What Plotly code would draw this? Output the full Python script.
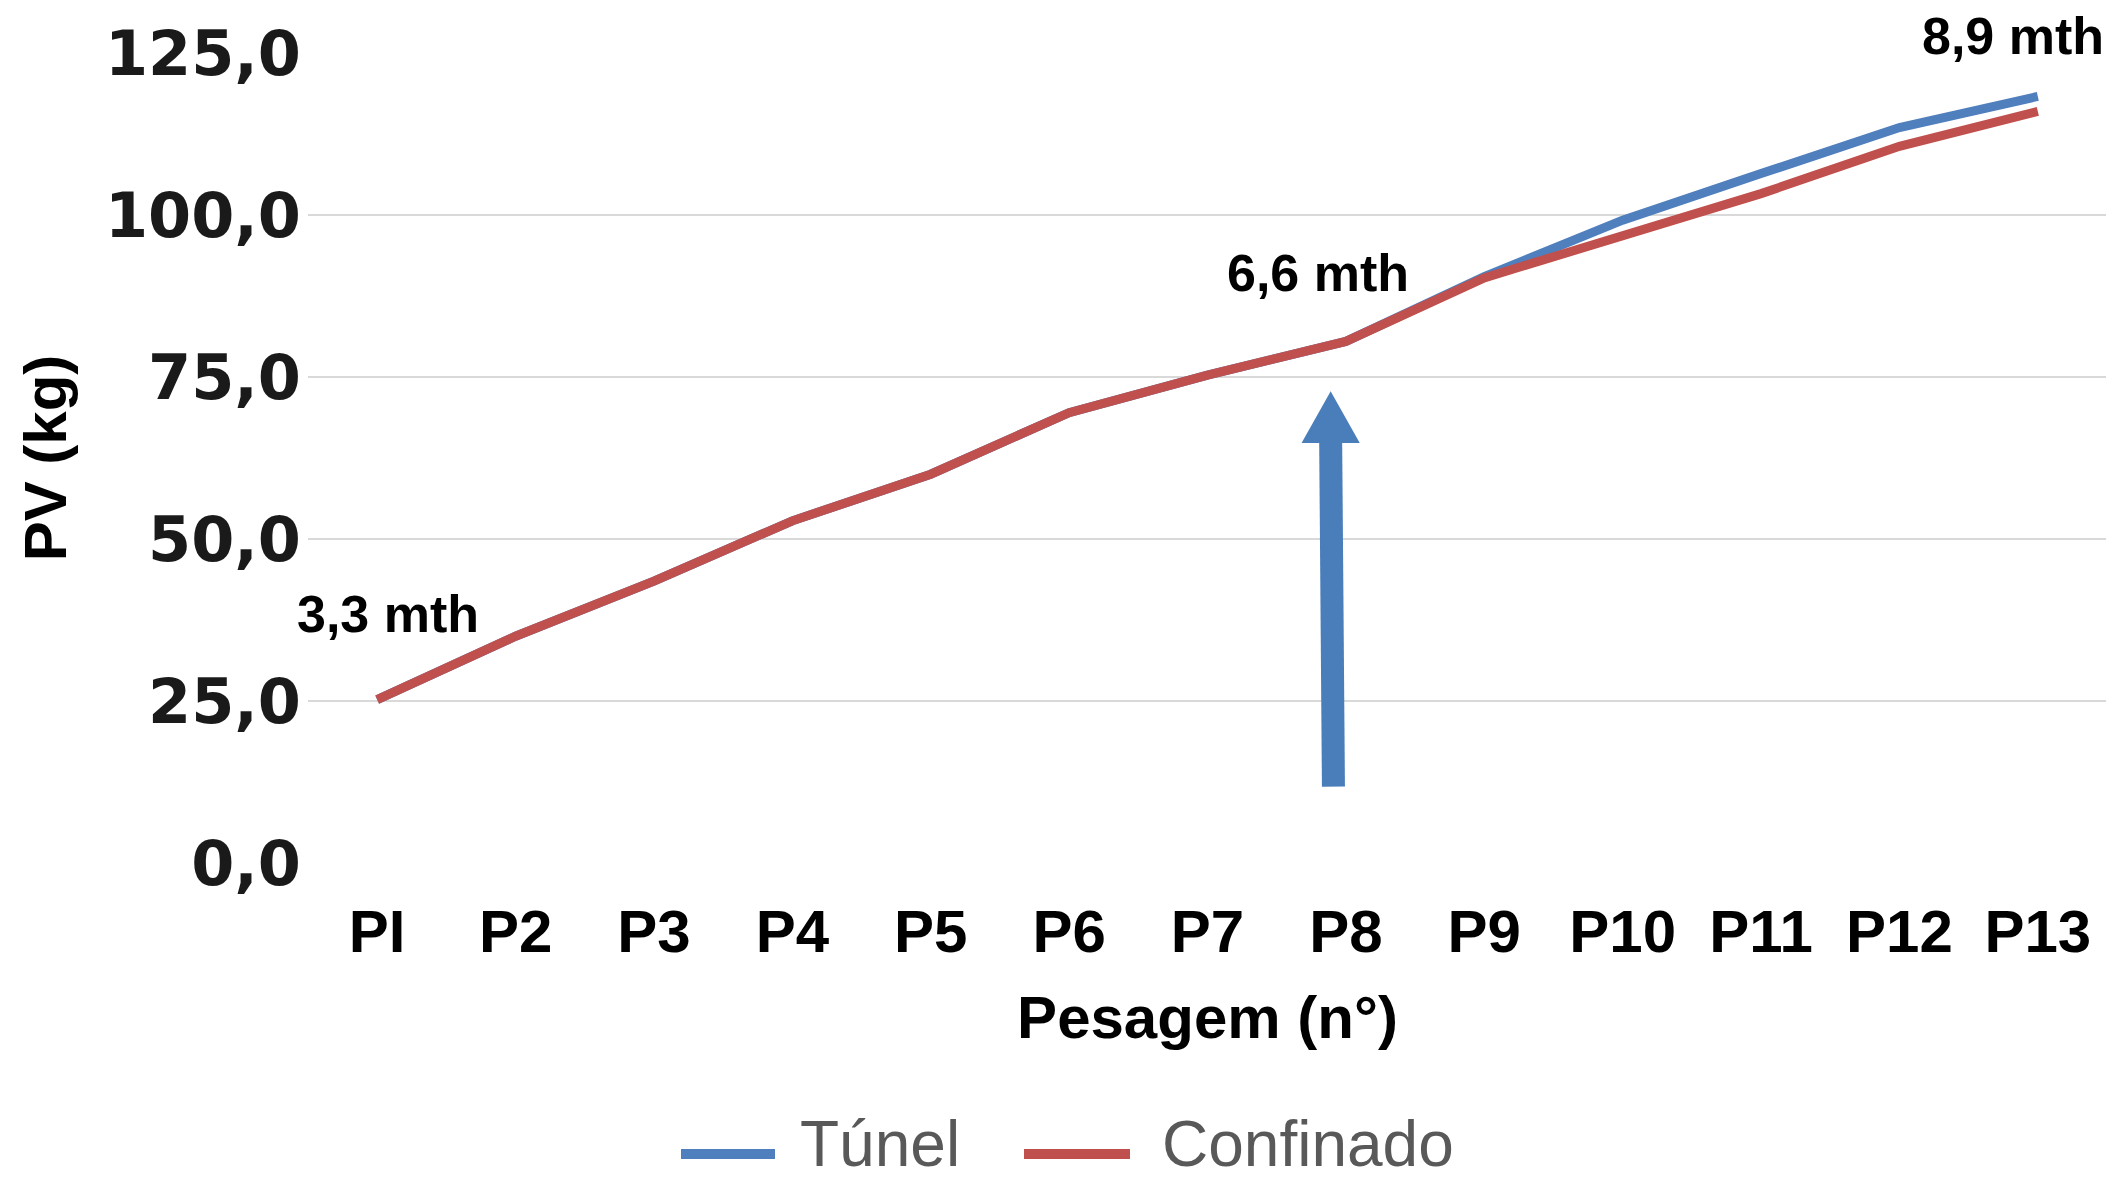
import plotly.graph_objects as go

# weighings and live weight (kg)
pesagens = ["PI", "P2", "P3", "P4", "P5", "P6", "P7", "P8", "P9", "P10", "P11", "P12", "P13"]
tunel = [25.2, 35.0, 43.5, 52.8, 60.0, 69.5, 75.3, 80.5, 90.5, 99.2, 106.4, 113.5, 118.3]
confinado = [25.2, 35.0, 43.5, 52.8, 60.0, 69.5, 75.3, 80.5, 90.3, 96.7, 103.3, 110.6, 116.0]
y_max = 125
y_ticks = [0, 25, 50, 75, 100, 125]

# age labels: (text, category index, weight)
idade_labels = [("3,3 mth", 0.08, 38.5), ("6,6 mth", 6.8, 91.0), ("8,9 mth", 11.82, 127.6)]

BLUE = "#4f7fbc"
RED = "#c0504d"
W, H = 2114, 1180
OFF = 8  # page body margin
# plot area wanted in the screenshot: left 308, right 2107, top 53, bottom 863
L, R, T, B = 308 - OFF, W - (2107 - OFF), 53 - OFF, H - (863 - OFF)

fig = go.Figure()
fig.add_trace(go.Scatter(x=pesagens, y=tunel, name="Túnel", mode="lines",
                         line=dict(color=BLUE, width=9), showlegend=False))
fig.add_trace(go.Scatter(x=pesagens, y=confinado, name="Confinado", mode="lines",
                         line=dict(color=RED, width=9), showlegend=False))

for txt, xi, yv in idade_labels:
    fig.add_annotation(x=xi, y=yv / y_max, text=txt, showarrow=False, xref="x", yref="paper",
                       xanchor="center", yanchor="middle",
                       font=dict(family="Liberation Sans", size=52, color="black", weight="bold"))

# arrow pointing at P8
arrow_x0, arrow_y0 = 6.91, 11.8
arrow_x1, arrow_y1 = 6.89, 72.8
head_half, head_len = 0.21, 8.0
fig.add_shape(type="line", xref="x", yref="y", x0=arrow_x0, y0=arrow_y0,
              x1=arrow_x1, y1=arrow_y1 - head_len + 0.5,
              line=dict(color="#4a7ebb", width=23))
fig.add_shape(type="path", xref="x", yref="y", fillcolor="#4a7ebb", line=dict(width=0),
              path=f"M {arrow_x1 - head_half},{arrow_y1 - head_len} "
                   f"L {arrow_x1 + head_half},{arrow_y1 - head_len} L {arrow_x1},{arrow_y1} Z")


# legend drawn by hand so the line samples are as long as in the original
def px_x(p):
    return (p - OFF - L) / (W - L - R)


def px_y(p):
    return (H - B - (p - OFF)) / (H - T - B)


leg_y = 1144
for name, color, lx0, lx1, tx in [("Túnel", BLUE, 681, 775, 798), ("Confinado", RED, 1024, 1130, 1160)]:
    fig.add_shape(type="line", xref="paper", yref="paper", x0=px_x(lx0), x1=px_x(lx1),
                  y0=px_y(leg_y + 10), y1=px_y(leg_y + 10), line=dict(color=color, width=10))
    fig.add_annotation(x=px_x(tx), y=px_y(leg_y), xref="paper", yref="paper", text=name,
                       showarrow=False, xanchor="left", yanchor="middle",
                       font=dict(family="Liberation Sans", size=64, color="#595959"))

fig.update_layout(
    width=W, height=H,
    margin=dict(l=L, r=R, t=T, b=B),
    plot_bgcolor="white", paper_bgcolor="white",
    separators=",.",
    showlegend=False,
)
fig.update_xaxes(
    automargin=False,
    range=[-0.5, len(pesagens) - 0.5],
    showgrid=False, showline=False, zeroline=False,
    tickfont=dict(family="Liberation Sans", size=60, color="black", weight="bold"),
    ticklabelstandoff=28,
    title=dict(text="Pesagem (n°)", standoff=31,
               font=dict(family="Liberation Sans", size=60, color="black", weight="bold")),
)
fig.update_yaxes(
    automargin=False,
    range=[0, y_max], tickvals=y_ticks, tickformat=".1f",
    showgrid=True, gridcolor="#d9d9d9", gridwidth=2, zeroline=False, showline=False,
    tickfont=dict(family="DejaVu Sans", size=62, color="#1a1a1a", weight="bold"),
    ticklabelstandoff=6,
    title=dict(text="PV (kg)", standoff=18,
               font=dict(family="Liberation Sans", size=60, color="black", weight="bold")),
)

fig.write_html("out.html")
